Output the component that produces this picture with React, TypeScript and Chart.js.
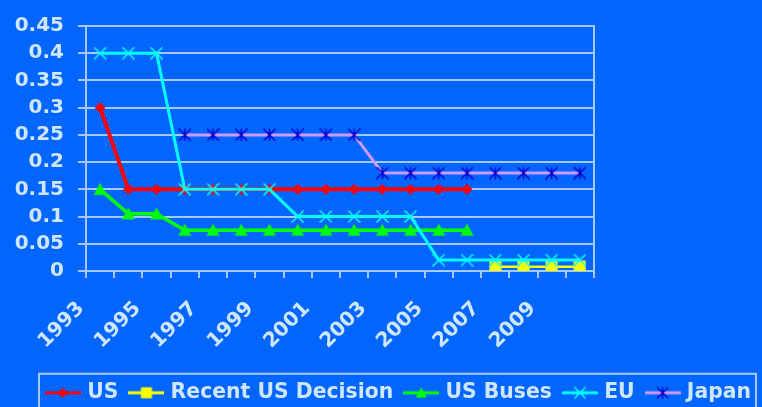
import React, { useEffect, useRef } from 'react';
import { Chart, registerables } from 'chart.js';

Chart.register(...registerables);

// ---------- data ----------
const years = ['1993', '1994', '1995', '1996', '1997', '1998', '1999', '2000', '2001', '2002', '2003', '2004', '2005', '2006', '2007', '2008', '2009', '2010'];
const seriesNames = ['US', 'Recent US Decision', 'US Buses', 'EU', 'Japan'];
const usValues = [0.3, 0.15, 0.15, 0.15, 0.15, 0.15, 0.15, 0.15, 0.15, 0.15, 0.15, 0.15, 0.15, 0.15, null, null, null, null];
const recentUsValues = [null, null, null, null, null, null, null, null, null, null, null, null, null, null, 0.008, 0.008, 0.008, 0.008];
const usBusValues = [0.15, 0.105, 0.105, 0.075, 0.075, 0.075, 0.075, 0.075, 0.075, 0.075, 0.075, 0.075, 0.075, 0.075, null, null, null, null];
const euValues = [0.4, 0.4, 0.4, 0.15, 0.15, 0.15, 0.15, 0.1, 0.1, 0.1, 0.1, 0.1, 0.02, 0.02, 0.02, 0.02, 0.02, 0.02];
const japanValues = [null, null, null, 0.25, 0.25, 0.25, 0.25, 0.25, 0.25, 0.25, 0.18, 0.18, 0.18, 0.18, 0.18, 0.18, 0.18, 0.18];
const yMin = 0;
const yMax = 0.45;
const yStep = 0.05;

// ---------- style ----------
const BG = '#0066FF';
const TEXT = '#CFE6FF';
const GRID = '#A4CBFF';
const FONT = 'DejaVu Sans';
const W = 762;
const H = 407;
const AREA_TOP = 18;
const AREA_BOTTOM = 271;
const AREA_LEFT = 86;
const AREA_RIGHT = 594;
const PAD_BOTTOM = -6;
const LEGEND_DX = 19;

type Kind = 'diamond' | 'square' | 'triangle' | 'x' | 'asterisk';

function drawMarker(g: CanvasRenderingContext2D, kind: Kind, cx: number, cy: number, r: number, color: string) {
  g.fillStyle = color;
  g.strokeStyle = color;
  g.beginPath();
  switch (kind) {
    case 'diamond':
      g.moveTo(cx, cy - r); g.lineTo(cx + r, cy); g.lineTo(cx, cy + r); g.lineTo(cx - r, cy); g.closePath(); g.fill();
      break;
    case 'square':
      g.rect(cx - r, cy - r, 2 * r, 2 * r); g.fill();
      break;
    case 'triangle':
      g.moveTo(cx, cy - r); g.lineTo(cx + r, cy + r * 0.85); g.lineTo(cx - r, cy + r * 0.85); g.closePath(); g.fill();
      break;
    case 'x':
      g.lineWidth = 1.5;
      g.moveTo(cx - r, cy - r); g.lineTo(cx + r, cy + r);
      g.moveTo(cx + r, cy - r); g.lineTo(cx - r, cy + r);
      g.stroke();
      break;
    case 'asterisk':
      g.lineWidth = 1.5;
      g.moveTo(cx - r, cy - r); g.lineTo(cx + r, cy + r);
      g.moveTo(cx + r, cy - r); g.lineTo(cx - r, cy + r);
      g.moveTo(cx, cy - r); g.lineTo(cx, cy + r);
      g.stroke();
      break;
  }
}

function markerCanvas(kind: Kind, size: number, color: string) {
  const c = document.createElement('canvas');
  c.width = size; c.height = size;
  const g = c.getContext('2d')!;
  drawMarker(g, kind, size / 2, size / 2, size / 2 - 0.5, color);
  return c;
}

function legendCanvas(kind: Kind, lineColor: string, markColor: string, lw: number) {
  const c = document.createElement('canvas');
  c.width = 36; c.height = 18;
  const g = c.getContext('2d')!;
  g.strokeStyle = lineColor;
  g.lineWidth = lw;
  g.beginPath(); g.moveTo(0, 9); g.lineTo(36, 9); g.stroke();
  drawMarker(g, kind, 18, 9, kind === 'diamond' ? 5 : 5.5, markColor);
  return c;
}

const legendTweaks = {
  id: 'legendTweaks',
  afterLayout(chart: any) {
    const lg = chart.legend;
    if (!lg) return;
    lg.left += LEGEND_DX;
    lg.right += LEGEND_DX;
  },
  afterDraw(chart: any) {
    const lg = chart.legend;
    if (!lg || !lg.legendHitBoxes || !lg.legendHitBoxes.length) return;
    const hb = lg.legendHitBoxes;
    const first = hb[0];
    const last = hb[hb.length - 1];
    const cy = first.top + first.height / 2;
    const ctx = chart.ctx;
    ctx.save();
    ctx.strokeStyle = GRID;
    ctx.lineWidth = 2;
    ctx.strokeRect(first.left - 10, cy - 19, last.left + last.width - first.left + 15, 60);
    ctx.restore();
  },
};

export default function App() {
  const ref = useRef<HTMLCanvasElement | null>(null);

  useEffect(() => {
    document.body.style.margin = '0';
    document.body.style.background = BG;
    const canvas = ref.current!;

    const kinds: Kind[] = ['diamond', 'square', 'triangle', 'x', 'asterisk'];
    const lineColors = ['#FF0000', '#FFFF00', '#00FF00', '#00FFFF', '#CC99FF'];
    const markColors = ['#FF0000', '#FFFF00', '#00FF00', '#00FFFF', '#0000CC'];
    const markSizes = [12, 13, 14, 13, 13];
    const lineWidths = [4, 2.5, 3.5, 3, 3];
    const values = [usValues, recentUsValues, usBusValues, euValues, japanValues];
    const legendImgs = kinds.map((k, i) => legendCanvas(k, lineColors[i], markColors[i], 3));

    const datasets = seriesNames.map((name, i) => ({
      label: name,
      data: values[i],
      borderColor: lineColors[i],
      backgroundColor: lineColors[i],
      borderWidth: lineWidths[i],
      pointStyle: markerCanvas(kinds[i], markSizes[i], markColors[i]),
      pointRadius: 6,
      pointHoverRadius: 6,
      tension: 0,
      spanGaps: false,
      order: 5 - i,
    }));

    const chart = new Chart(canvas, {
      type: 'line',
      data: { labels: years, datasets },
      plugins: [legendTweaks],
      options: {
        responsive: false,
        animation: false,
        events: [],
        layout: { padding: { left: 0, top: AREA_TOP, right: 0, bottom: PAD_BOTTOM } },
        font: { family: FONT },
        scales: {
          x: {
            type: 'category',
            offset: true,
            grid: {
              display: true,
              drawOnChartArea: false,
              drawTicks: true,
              tickLength: 7,
              offset: true,
              color: GRID,
              lineWidth: 2,
            },
            border: { display: true, color: GRID, width: 2 },
            ticks: {
              autoSkip: false,
              minRotation: 45,
              maxRotation: 45,
              padding: 19,
              labelOffset: -19,
              color: TEXT,
              font: { family: FONT, size: 20, weight: 'bold' },
              callback: (_v: any, i: number) => (i % 2 === 0 ? years[i] : ''),
            },
            afterFit: (s: any) => {
              const lgH = s.chart.legend ? s.chart.legend.height : 0;
              s.height = H - PAD_BOTTOM - lgH - AREA_BOTTOM;
            },
          },
          y: {
            type: 'linear',
            position: 'left',
            min: yMin,
            max: yMax,
            grid: { color: GRID, lineWidth: 2, drawTicks: true, tickLength: 8 },
            border: { display: true, color: GRID, width: 2 },
            ticks: {
              stepSize: yStep,
              padding: 14,
              color: TEXT,
              font: { family: FONT, size: 20, weight: 'bold' },
              callback: (v: any) => String(Math.round(Number(v) * 100) / 100),
            },
            afterFit: (s: any) => { s.width = AREA_LEFT; },
          },
          yR: {
            type: 'linear',
            position: 'right',
            display: true,
            grid: { display: false, drawTicks: false },
            border: { display: true, color: GRID, width: 2 },
            ticks: { display: false },
            afterFit: (s: any) => { s.width = W - AREA_RIGHT; },
          },
        },
        plugins: {
          tooltip: { enabled: false },
          title: { display: false },
          legend: {
            display: true,
            position: 'bottom',
            align: 'center',
            labels: {
              usePointStyle: true,
              pointStyleWidth: 28,
              padding: 14,
              color: TEXT,
              font: { family: FONT, size: 20.4, weight: 'bold' },
              sort: (a: any, b: any) => a.datasetIndex - b.datasetIndex,
              generateLabels: (c: any) => {
                const items = (Chart.defaults.plugins.legend.labels as any).generateLabels(c);
                return items
                  .sort((a: any, b: any) => a.datasetIndex - b.datasetIndex)
                  .map((it: any) => ({ ...it, pointStyle: legendImgs[it.datasetIndex], fontColor: TEXT }));
              },
            },
          },
        },
      } as any,
    });

    return () => chart.destroy();
  }, []);

  return (
    <div style={{ position: 'fixed', left: 0, top: 0, width: W, height: H, background: BG }}>
      <canvas ref={ref} width={W} height={H} style={{ display: 'block', width: W, height: H }} />
    </div>
  );
}
